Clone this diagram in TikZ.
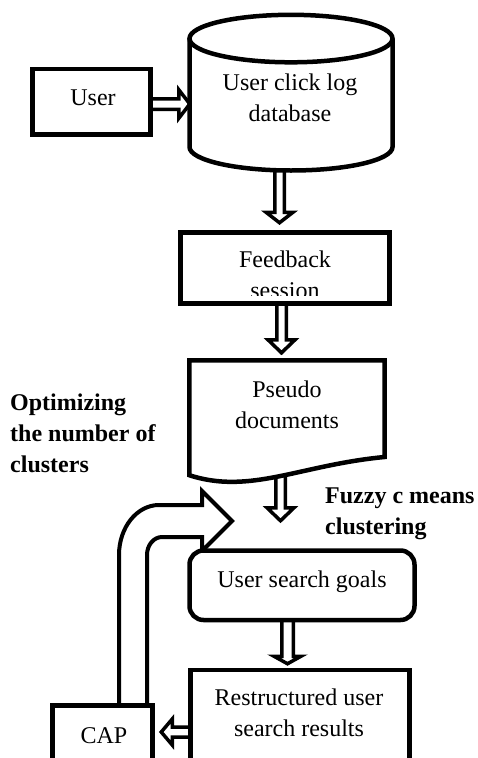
\documentclass[tikz,border=0pt]{standalone}
\usepackage{fontspec}
\setmainfont{Liberation Serif}
\usetikzlibrary{calc}
\pgfdeclarelayer{back}
\pgfsetlayers{back,main}

% vertical block arrow: #1 start (gives x), #2 tip (gives y), #3 shaft half width, #4 head half width, #5 head length
\newcommand\vblk[5]{%
  \draw[blockarrow] let \p1=(#1), \p2=(#2) in
    (\x1-#3,\y1) -- (\x1-#3,\y2+#5) -- (\x1-#4,\y2+#5) -- (\x1,\y2)
    -- (\x1+#4,\y2+#5) -- (\x1+#3,\y2+#5) -- (\x1+#3,\y1);}
% horizontal block arrow: #1 start (gives y), #2 tip (gives x), #5 signed offset of the head base from the tip
\newcommand\hblk[5]{%
  \draw[blockarrow] let \p1=(#1), \p2=(#2) in
    (\x1,\y1+#3) -- (\x2+#5,\y1+#3) -- (\x2+#5,\y1+#4) -- (\x2,\y1)
    -- (\x2+#5,\y1-#4) -- (\x2+#5,\y1-#3) -- (\x1,\y1-#3);}

\begin{document}
\begin{tikzpicture}[x=1pt,y=-1pt,
  outline/.style={draw, line width=4.5pt, fill=white, inner sep=0pt},
  anchorbox/.style={inner sep=0pt},
  blockarrow/.style={draw, line width=3.5pt, fill=white, line join=miter},
  loopline/.style={draw, line width=4pt, line join=miter},
  txt/.style={inner sep=0pt, anchor=base, font=\fontsize{24}{31}\selectfont},
  bold/.style={txt, anchor=base west, font=\fontsize{24}{31}\selectfont\bfseries}]
\useasboundingbox (0,0) rectangle (477,758);
\clip (0,0) rectangle (477,758);

% boxes
\node[outline, minimum width=118pt, minimum height=65.5pt] (user) at (91.5,101.75) {};
\node[anchorbox, minimum width=203pt, minimum height=155.5pt] (db) at (291,92.75) {};
\node[outline, minimum width=209pt, minimum height=71pt] (fb) at (285,268) {};
\node[anchorbox, minimum width=195pt, minimum height=114.5pt] (pseudo) at (287,417.75) {};
\node[outline, rounded corners=14pt, minimum width=225pt, minimum height=69.5pt] (goals) at (302,585.25) {};
\node[outline, minimum width=219pt, minimum height=120pt] (restr) at (300,730) {};
\node[outline, minimum width=100pt, minimum height=84.5pt] (cap) at (102.5,747.75) {};

% database cylinder
\draw[outline] (189.5,38.75) -- (189.5,147)
  arc[start angle=180, end angle=0, x radius=101.5, y radius=23.5] -- (392.5,38.75);
\draw[outline] (db.north) ++(0,23.75) ellipse[x radius=101.5, y radius=23.75];

% document shape with wavy lower edge
\draw[outline] (pseudo.south west) -- (pseudo.north west) -- (pseudo.north east)
  -- (384.5,457) .. controls (300,465) and (250,495) .. (pseudo.south west) -- cycle;

% connectors, kept underneath the shapes
\begin{pgfonlayer}{back}
\hblk{$(user.east)+(0,2.25)$}{$(db.west)+(0.5,0)$}{5.25pt}{14.25pt}{-11pt}
\vblk{$(db.south)+(-11.5,-3)$}{$(fb.north)+(-5.5,-7.5)$}{4.75pt}{13.5pt}{10.5pt}
\vblk{$(fb.south)+(-3.5,-3)$}{$(pseudo.north)+(-4,-7.5)$}{4.75pt}{13.5pt}{13pt}
\vblk{$(pseudo.south)+(-6.5,-5)$}{$(goals.north)+(-22,-27.5)$}{4.75pt}{13.5pt}{13pt}
\vblk{$(goals.south)+(-14.5,-3)$}{$(restr.north)+(-12.5,-4)$}{5.75pt}{13.5pt}{7.5pt}
\hblk{$(restr.west)+(3,2)$}{$(cap.east)+(6.5,0)$}{5pt}{13pt}{11pt}
\coordinate (looptip) at (232,521);
\draw[loopline] ($(cap.north)+(16.5,2)$) -- (119,555)
  .. controls (119,527.4) and (136.9,505) .. (159,505) -- (202,505) -- (202,491)
  -- (looptip) -- (202,551) -- (202,537) -- (162,537)
  .. controls (153.7,537) and (147,545.1) .. (147,555) -- ($(cap.north)+(44.5,2)$);
\end{pgfonlayer}

% texts
\node[txt] at (93,105) {User};
\node[txt] at (290,90) {\begin{tabular}[t]{@{}c@{}}User click log\\database\end{tabular}};
\begin{scope}
  \clip (180,230) rectangle (390,295);
  \node[txt] at (285,267) {\begin{tabular}[t]{@{}c@{}}Feedback\\session\end{tabular}};
\end{scope}
\node[txt] at (287,397) {\begin{tabular}[t]{@{}c@{}}Pseudo\\documents\end{tabular}};
\node[bold] at (10,410) {\begin{tabular}[t]{@{}l@{}}Optimizing\\the number of\\clusters\end{tabular}};
\node[bold] at (325,503) {\begin{tabular}[t]{@{}l@{}}Fuzzy c means\\clustering\end{tabular}};
\node[txt] at (302,587) {User search goals};
\node[txt] at (299,705) {\begin{tabular}[t]{@{}c@{}}Restructured user\\search results\end{tabular}};
\node[txt] at (104,743) {CAP};
\end{tikzpicture}
\end{document}
